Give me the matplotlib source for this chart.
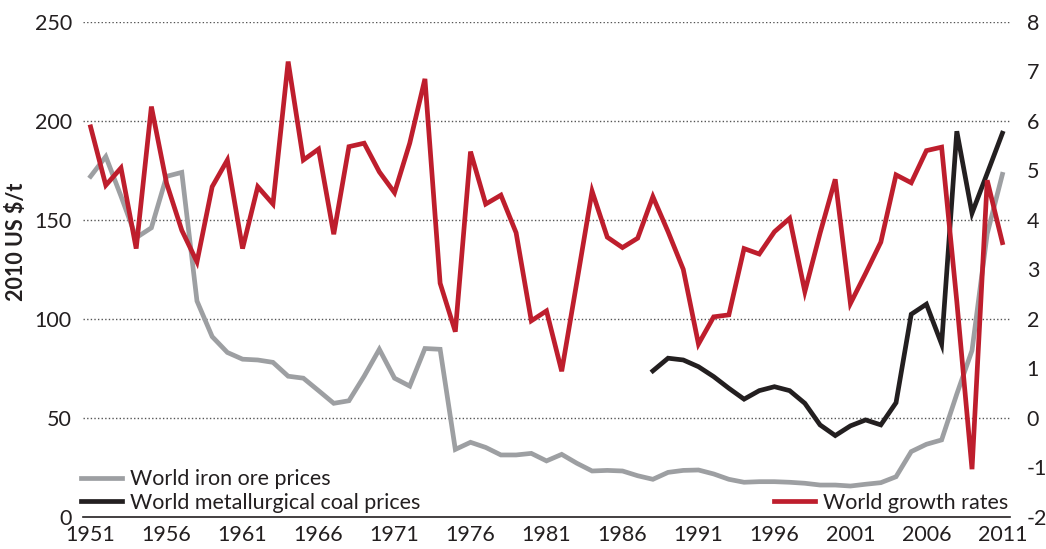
import matplotlib
matplotlib.use("Agg")
import matplotlib.pyplot as plt
from matplotlib.lines import Line2D

plt.rcParams['font.family'] = ['Lato', 'DejaVu Sans']
plt.rcParams['axes.unicode_minus'] = False

years = list(range(1951, 2012))

iron_ore = [172, 182, 162, 141, 146, 172, 174, 109, 91, 83,
            79.6, 79.2, 78, 71, 70, 63.7, 57.3, 58.6, 71, 84.6,
            70, 66, 85, 84.6, 34, 37.6, 35, 31.2, 31.2, 32,
            28.2, 31.5, 27, 23.1, 23.4, 23.1, 20.7, 18.9, 22.4, 23.4,
            23.6, 21.6, 18.9, 17.4, 17.7, 17.7, 17.4, 16.9, 16, 16,
            15.5, 16.4, 17.2, 20.2, 32.9, 36.6, 38.8, 62, 84, 143,
            173]

coal_years = list(range(1988, 2012))
coal = [73.7, 80.1, 79.2, 75.8, 70.8, 64.9, 59.4, 63.7, 65.7, 63.7,
        57.3, 46.4, 41, 45.9, 48.9, 46.4, 57.6, 102.3, 107.4, 87.2,
        194.8, 153.4, 173.5, 193.8]

growth = [5.88, 4.70, 5.05, 3.42, 6.29, 4.74, 3.79, 3.15, 4.67, 5.21,
          3.42, 4.67, 4.32, 7.20, 5.21, 5.43, 3.71, 5.48, 5.55, 4.97,
          4.55, 5.55, 6.85, 2.72, 1.74, 5.38, 4.32, 4.50, 3.74, 1.96,
          2.16, 0.94, 2.75, 4.58, 3.65, 3.44, 3.63, 4.47, 3.76, 3.00,
          1.49, 2.04, 2.08, 3.42, 3.31, 3.76, 4.03, 2.55, 3.73, 4.82,
          2.31, 2.92, 3.55, 4.91, 4.75, 5.40, 5.47, 2.35, -1.04, 4.80,
          3.54]

xtick_years = [1951, 1956, 1961, 1966, 1971, 1976, 1981, 1986, 1991, 1996, 2001, 2006, 2011]
left_ticks = [0, 50, 100, 150, 200, 250]
right_ticks = [-2, -1, 0, 1, 2, 3, 4, 5, 6, 7, 8]

GRAY = '#9d9fa2'
BLACK = '#231f20'
RED = '#be1e2d'
TXT = '#231f20'
LW = 3.4
FS = 15.5

fig = plt.figure(figsize=(10.46, 5.49), dpi=100)
ax = fig.add_axes([83/1046, 1 - 516.7/549, (1010-83)/1046, (516.7-22)/549])
ax2 = ax.twinx()

ax.plot(years, iron_ore, color=GRAY, lw=LW, solid_joinstyle='miter', zorder=3)
ax.plot(coal_years, coal, color=BLACK, lw=LW, solid_joinstyle='miter', zorder=4)
ax2.plot(years, growth, color=RED, lw=LW, solid_joinstyle='miter', zorder=3)

ax.set_xlim(1950.5, 2011.5)
ax.set_ylim(0, 250)
ax2.set_ylim(-2, 8)

ax.set_yticks(left_ticks)
ax2.set_yticks(right_ticks)
ax.set_xticks(xtick_years)
ax.set_xticklabels([str(y) for y in xtick_years])

for a in (ax, ax2):
    for s in a.spines.values():
        s.set_visible(False)
ax.spines['bottom'].set_visible(True)
ax.spines['bottom'].set_color(BLACK)
ax.spines['bottom'].set_linewidth(1.2)

ax.tick_params(axis='y', length=0, pad=8, labelsize=FS, labelcolor=TXT)
ax2.tick_params(axis='y', length=0, pad=12, labelsize=FS, labelcolor=TXT)
ax.tick_params(axis='x', length=0, pad=6, labelsize=FS, labelcolor=TXT)

for v in left_ticks[1:]:
    ax.axhline(v, color='#555555', lw=1.0, ls=(0, (1, 1.6)), zorder=1)

ax.set_ylabel('2010 US $/t', fontsize=FS, fontweight='bold', color=TXT)
ax.yaxis.set_label_coords(-0.06, 0.555)

h1 = [Line2D([], [], color=GRAY, lw=LW), Line2D([], [], color=BLACK, lw=LW)]
leg1 = ax2.legend(h1, ['World iron ore prices', 'World metallurgical coal prices'],
                  loc='lower left', bbox_to_anchor=(-0.004, 0.004), frameon=False,
                  fontsize=FS, handlelength=1.9, handletextpad=0.35, labelspacing=0.15,
                  borderpad=0.1, borderaxespad=0, labelcolor=TXT)
ax2.add_artist(leg1)
h2 = [Line2D([], [], color=RED, lw=LW)]
ax2.legend(h2, ['World growth rates'], loc='lower right', bbox_to_anchor=(1.0, 0.004),
           frameon=False, fontsize=FS, handlelength=1.9, handletextpad=0.35,
           borderpad=0.1, borderaxespad=0, labelcolor=TXT)

fig.savefig('out.png', dpi=100)
